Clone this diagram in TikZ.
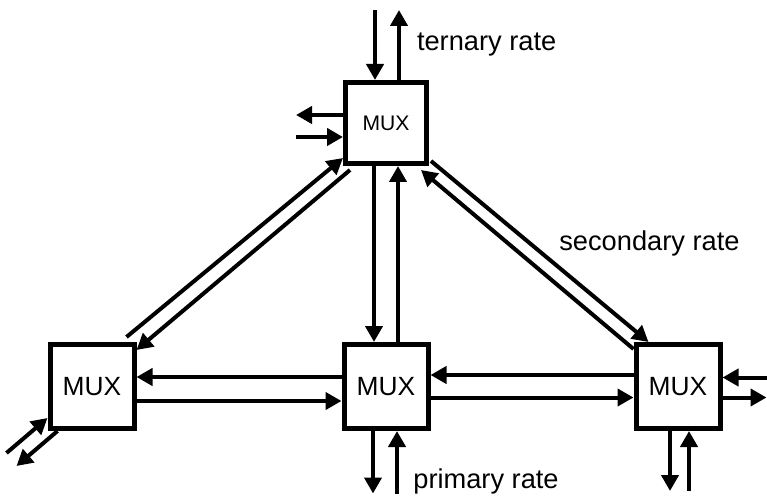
\documentclass[tikz,border=0pt]{standalone}
\usepackage{fontspec}
\setmainfont{Liberation Sans}
\usetikzlibrary{arrows.meta,positioning}

\begin{document}
\begin{tikzpicture}[
  muxbox/.style={draw, line width=0.1cm, minimum size=1.68cm, inner sep=0pt,
                 font=\fontsize{15}{18}\selectfont},
  arr/.style={-{Triangle[length=0.32cm,width=0.34cm]}, line width=0.08cm},
  lbl/.style={font=\fontsize{15.5}{18}\selectfont, inner sep=0pt}
]
\useasboundingbox (0,0) rectangle (15.34,9.9);

\node[muxbox] (cmux) at (7.72,2.17) {MUX};
\node[muxbox, left=4.1cm of cmux]  (lmux) {MUX};
\node[muxbox, right=4.06cm of cmux] (rmux) {MUX};
\node[muxbox, above=3.52cm of cmux, minimum size=1.62cm,
      font=\fontsize{12}{14}\selectfont] (tmux) {MUX};

% top <-> centre
\draw[arr] ([xshift=-0.24cm]tmux.south) -- ([xshift=-0.24cm]cmux.north);
\draw[arr] ([xshift=0.24cm]cmux.north) -- ([xshift=0.24cm]tmux.south);

% left <-> centre <-> right
\draw[arr] ([yshift=0.19cm]cmux.west)  -- ([yshift=0.19cm]lmux.east);
\draw[arr] ([yshift=-0.29cm]lmux.east) -- ([yshift=-0.29cm]cmux.west);
\draw[arr] ([yshift=0.23cm]rmux.west)  -- ([yshift=0.23cm]cmux.east);
\draw[arr] ([yshift=-0.22cm]cmux.east) -- ([yshift=-0.22cm]rmux.west);

% diagonals
\draw[arr] ([xshift=-0.2cm,yshift=0.1cm]lmux.north east) -- ([yshift=0.16cm]tmux.south west);
\draw[arr] ([xshift=0.14cm,yshift=-0.08cm]tmux.south west) -- ([yshift=-0.16cm]lmux.north east);
\draw[arr] ([xshift=0.04cm,yshift=0.1cm]tmux.south east) -- ([xshift=0.3cm]rmux.north west);
\draw[arr] ([yshift=-0.14cm]rmux.north west) -- ([xshift=-0.16cm,yshift=-0.08cm]tmux.south east);

% ternary rate
\draw[arr] ([xshift=-0.22cm]tmux.north) ++(0,1.4) -- ([xshift=-0.22cm]tmux.north);
\draw[arr] ([xshift=0.26cm]tmux.north) -- ++(0,1.4)
  node[lbl, midway, right=0.32cm] (ternary) {ternary rate};
\draw[arr] ([yshift=0.16cm]tmux.west) -- ++(-0.94,0);
\draw[arr] ([yshift=-0.28cm]tmux.west) ++(-0.94,0) -- ([yshift=-0.28cm]tmux.west);

% primary rate
\draw[arr] ([xshift=-0.26cm]cmux.south) -- ++(0,-1.25);
\draw[arr] ([xshift=0.22cm]cmux.south) ++(0,-1.25) -- ([xshift=0.22cm]cmux.south);
\draw[arr] ([xshift=-0.16cm]rmux.south) -- ++(0,-1.2);
\draw[arr] ([xshift=0.22cm]rmux.south) ++(0,-1.2) -- ([xshift=0.22cm]rmux.south);
\draw[arr] ([yshift=0.18cm]rmux.east) ++(0.88,0) -- ([yshift=0.18cm]rmux.east);
\draw[arr] ([yshift=-0.22cm]rmux.east) -- ++(0.88,0);
\draw[arr] ([xshift=-0.82cm,yshift=-0.44cm]lmux.south west) -- ([yshift=0.26cm]lmux.south west);
\draw[arr] ([xshift=0.2cm]lmux.south west) -- ++(-0.82,-0.7);

\node[lbl, anchor=west] (primary) at ([xshift=0.54cm,yshift=-1.0cm]cmux.south) {primary rate};
\node[lbl, anchor=west] (secondary) at ([xshift=2.6cm,yshift=-1.54cm]tmux.south east) {secondary rate};
\end{tikzpicture}
\end{document}
